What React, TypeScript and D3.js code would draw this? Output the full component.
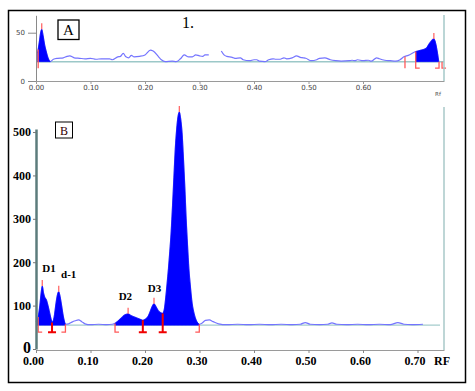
import { useEffect, useRef } from "react";
import * as d3 from "d3";

const W = 475;
const H = 391;

// ---- panel A: upper scan ----
const aRf = [
  0.003, 0.006, 0.0085, 0.0105, 0.013, 0.016, 0.019, 0.022, 0.026, 0.032, 0.04, 0.05, 0.057, 0.062,
  0.07, 0.08, 0.09, 0.1, 0.11, 0.12, 0.135, 0.14, 0.15, 0.155, 0.16, 0.165, 0.17, 0.175, 0.18, 0.19,
  0.2, 0.21, 0.215, 0.225, 0.23, 0.237, 0.25, 0.257, 0.265, 0.272, 0.28, 0.287, 0.293, 0.3, 0.306,
  0.31, 0.317, 0.328, 0.34, 0.345, 0.35, 0.36, 0.365, 0.375, 0.38, 0.392, 0.4, 0.405, 0.41, 0.42,
  0.427, 0.435, 0.44, 0.448, 0.455, 0.46, 0.47, 0.478, 0.485, 0.49, 0.495, 0.505, 0.515, 0.52, 0.53,
  0.54, 0.55, 0.56, 0.575, 0.58, 0.585, 0.59, 0.6, 0.61, 0.615, 0.625, 0.63, 0.64, 0.65, 0.66, 0.668,
  0.675, 0.683, 0.6967, 0.707, 0.716, 0.722, 0.73, 0.739,
];
const aVal: (number | null)[] = [
  29, 40, 50, 53.5, 47, 37, 30, 24, 20, 22.5, 23.5, 24, 25.5, 26,
  24, 23.5, 23, 23.5, 22.5, 23, 23, 22, 25, 25.5, 28.5, 25, 24, 26.5, 25, 25.5,
  27, 32, 31, 25, 22, 20, 20.5, 20, 23, 27, 25, 25, 27, 26, 25.5,
  27, 27, null, 31, 27, 25.5, 24.5, 23.5, 24, 22, 21, 22, 22, 20.5, 20,
  22, 23, 22.5, 22.5, 24, 23, 24, 26, 24.5, 24, 23.5, 21, 22, 23.5, 24,
  22, 21, 20.5, 21, 21.5, 21, 22, 21, 21.5, 20.5, 24, 23, 21.5, 21, 20.5, 22,
  25, 26.5, 30.5, 32, 34, 39, 43.5, 20,
];
const aBaseline = 20;
const aFills = [[0.003, 0.026], [0.6967, 0.739]];
const aPeaks = [0.0105, 0.73];
const aMarks = [
  { rf: 0.004, kind: "line" },
  { rf: 0.677, kind: "line" },
  { rf: 0.6967, kind: "left" },
  { rf: 0.7395, kind: "right" },
  { rf: 0.745, kind: "left" },
];
const aTicksX = [0, 0.1, 0.2, 0.3, 0.4, 0.5, 0.6];
const aTicksY = [0, 50];

// ---- panel B: lower scan ----
const bRf = [
  0.0, 0.004, 0.007, 0.0095, 0.0115, 0.014, 0.0165, 0.0188, 0.022, 0.026, 0.0294, 0.033, 0.037,
  0.0395, 0.0417, 0.044, 0.047, 0.05, 0.054, 0.06, 0.066, 0.072, 0.078, 0.084, 0.09, 0.1, 0.115,
  0.13, 0.14, 0.145, 0.15, 0.156, 0.162, 0.166, 0.169, 0.173, 0.178, 0.184, 0.19, 0.196, 0.201,
  0.206, 0.21, 0.2135, 0.2165, 0.22, 0.224, 0.228, 0.2325, 0.2355, 0.238, 0.2405, 0.243, 0.2455,
  0.248, 0.2505, 0.253, 0.2555, 0.258, 0.2605, 0.263, 0.2655, 0.268, 0.2705, 0.273, 0.2755, 0.278,
  0.2805, 0.283, 0.2865, 0.29, 0.294, 0.2996, 0.305, 0.311, 0.318, 0.325, 0.335, 0.35, 0.37, 0.39,
  0.41, 0.43, 0.45, 0.47, 0.485, 0.494, 0.503, 0.52, 0.535, 0.543, 0.552, 0.57, 0.59, 0.61, 0.63,
  0.65, 0.664, 0.675, 0.69, 0.71,
];
const bVal = [
  62, 74, 100, 130, 145, 128, 118, 114, 100, 78, 61, 72, 108,
  126, 132, 122, 100, 76, 57, 58, 62, 65, 67, 63, 58, 56, 57,
  56, 57, 59, 64, 71, 78, 80, 81, 78, 75, 72, 69, 66, 69,
  76, 88, 99, 104, 98, 89, 84, 82, 92, 118, 150, 185, 225,
  270, 330, 395, 460, 505, 535, 546, 530, 498, 440, 375, 300, 240,
  185, 148, 105, 82, 66, 57, 60, 66, 67, 63, 58, 56, 57, 56,
  57, 56, 57, 56, 57, 61, 57, 56, 57, 60, 57, 56, 57, 56, 57,
  56, 61, 57, 56, 57,
];
const bBaseline = 55;
const bFills = [[0.002, 0.0294], [0.0294, 0.054], [0.145, 0.196], [0.196, 0.2325], [0.2325, 0.2996]];
const bPeaks = [0.0115, 0.0417, 0.169, 0.2165, 0.263];
const bMarks = [
  { rf: 0.004, kind: "left" },
  { rf: 0.0294, kind: "sep" },
  { rf: 0.054, kind: "right" },
  { rf: 0.145, kind: "left" },
  { rf: 0.196, kind: "sep" },
  { rf: 0.2325, kind: "sep" },
  { rf: 0.2996, kind: "right" },
];
const bNames = ["D1", "d-1", "D2", "D3"];
const bNameRf = [0.024, 0.06, 0.164, 0.2175];
const bNameVal = [178, 163, 113, 132];
const bTicksX = [0, 0.1, 0.2, 0.3, 0.4, 0.5, 0.6, 0.7];
const bTicksY = [0, 100, 200, 300, 400, 500];

// shared x scale (both scans line up)
const x = d3.scaleLinear().domain([0, 0.7486]).range([36, 444]);
const yA = d3.scaleLinear().domain([0, 68]).range([81, 15.3]);
const yB = d3.scaleLinear().domain([0, 507]).range([349, 129]);

function interp(rf: number[], val: (number | null)[], r: number) {
  const i = Math.max(0, Math.min(rf.length - 2, d3.bisectRight(rf, r) - 1));
  const v0 = val[i] ?? 0, v1 = val[i + 1] ?? v0;
  const t = (r - rf[i]) / (rf[i + 1] - rf[i]);
  return v0 + (v1 - v0) * Math.max(0, Math.min(1, t));
}

function fillPoints(rf: number[], val: (number | null)[], a: number, b: number) {
  const pts: [number, number][] = [[a, interp(rf, val, a)]];
  rf.forEach((r, i) => {
    if (r > a && r < b && val[i] != null) pts.push([r, val[i] as number]);
  });
  pts.push([b, interp(rf, val, b)]);
  return pts;
}

function markPath(kind: string, px: number, top: number, bot: number) {
  if (kind === "left") return `M${px},${top}V${bot}H${px + 4}`;
  if (kind === "right") return `M${px},${top}V${bot}H${px - 4}`;
  if (kind === "sep") return `M${px},${top}V${bot}M${px - 4},${bot}H${px + 4}`;
  return `M${px},${top}V${bot}`;
}

const Scan = ({ rf, val, y, base, fills, peaks, marks, sep, tickLen }: any) => {
  const line = d3.line<[number, number | null]>()
    .defined(d => d[1] != null)
    .x(d => x(d[0]))
    .y(d => y(d[1] as number))
    .curve(d3.curveMonotoneX);
  const area = d3.area<[number, number]>()
    .x(d => x(d[0]))
    .y0(y(base))
    .y1(d => y(d[1]))
    .curve(d3.curveMonotoneX);
  const pairs = rf.map((r: number, i: number) => [r, val[i]]);
  return (
    <g>
      <path d={line(pairs) || ""} fill="none" stroke="#7474ff" strokeWidth={1.2} />
      {fills.map((f: number[], i: number) => (
        <path key={i} d={area(fillPoints(rf, val, f[0], f[1])) || ""} fill="#0000ff" stroke="#0000ff" strokeWidth={0.6} />
      ))}
      {peaks.map((p: number, i: number) => {
        const top = y(interp(rf, val, p));
        return <line key={i} x1={x(p)} x2={x(p)} y1={top} y2={top - 6} stroke="#ff6a6a" strokeWidth={1.3} />;
      })}
      {marks.map((m: any, i: number) => (
        <path key={i} d={markPath(m.kind, x(m.rf), y(interp(rf, val, m.rf)), y(base) + tickLen)}
          fill="none" stroke={m.kind === "sep" ? sep : "#ff5a5a"} strokeWidth={m.kind === "sep" ? 2 : 1.3} />
      ))}
    </g>
  );
};

export default function App() {
  const axA = useRef<SVGGElement>(null);
  const axB = useRef<SVGGElement>(null);

  useEffect(() => {
    const ga = d3.select(axA.current);
    ga.selectAll("*").remove();
    const ly = ga.append("g").attr("transform", "translate(36,0)")
      .call(d3.axisLeft(yA).tickValues(aTicksY).tickSize(8).tickSizeOuter(0).tickPadding(3));
    ly.select(".domain").attr("stroke", "#8a8a8a");
    ly.selectAll("line").attr("stroke", "#8a8a8a");
    ly.selectAll("text").attr("font-size", 7).attr("font-family", "DejaVu Sans").attr("fill", "#444");
    const lx = ga.append("g").attr("transform", "translate(0,81)")
      .call(d3.axisBottom(x).tickValues(aTicksX).tickFormat(d3.format(".2f")).tickSize(3).tickSizeOuter(0).tickPadding(1.5));
    lx.select(".domain").attr("stroke", "#9a9a9a");
    lx.selectAll("line").attr("stroke", "#9a9a9a");
    lx.selectAll("text").attr("font-size", 7).attr("font-family", "DejaVu Sans").attr("fill", "#444");

    const gb = d3.select(axB.current);
    gb.selectAll("*").remove();
    const by = gb.append("g").attr("transform", "translate(36,0)")
      .call(d3.axisLeft(yB).tickValues(bTicksY).tickSize(3).tickSizeOuter(0).tickPadding(2));
    by.select(".domain").attr("stroke", "#5c7c7c").attr("stroke-width", 2.5);
    by.selectAll("line").attr("stroke", "#777");
    by.selectAll("text").attr("font-size", 12).attr("font-weight", "bold")
      .attr("font-family", "Liberation Serif").attr("fill", "#000");
    by.selectAll("text").filter((d: any) => d === 0).attr("font-size", 16).attr("dy", "0.2em");
    const bx = gb.append("g").attr("transform", "translate(0,350)")
      .call(d3.axisBottom(x).tickValues(bTicksX).tickFormat(d3.format(".2f")).tickSize(3).tickSizeOuter(0).tickPadding(3.5));
    bx.select(".domain").attr("stroke", "#9a9a9a");
    bx.selectAll("line").attr("stroke", "#888");
    bx.selectAll("text").attr("font-size", 12).attr("font-weight", "bold")
      .attr("font-family", "Liberation Serif").attr("fill", "#000").attr("dx", -3);
  }, []);

  return (
    <svg width={W} height={H} style={{ position: "absolute", left: 0, top: 0, background: "#fff" }}>
      <rect x={8.5} y={10.5} width={457} height={372} fill="none" stroke="#000" strokeWidth={1.5} />

      {/* panel A */}
      <line x1={36} x2={444} y1={yA(aBaseline)} y2={yA(aBaseline)} stroke="#9cc8c8" strokeWidth={1.6} />
      <Scan rf={aRf} val={aVal} y={yA} base={aBaseline} fills={aFills} peaks={aPeaks} marks={aMarks} sep="#ff5a5a" tickLen={6.5} />
      <g ref={axA} />
      <line x1={444} x2={444} y1={15} y2={81} stroke="#a4c8c8" strokeWidth={1.5} />
      <rect x={58} y={20} width={21} height={19.5} fill="#fff" stroke="#000" strokeWidth={1.3} />
      <text x={68.5} y={35} textAnchor="middle" fontFamily="Liberation Serif" fontSize={15}>A</text>
      <text x={182} y={27.5} fontFamily="Liberation Serif" fontSize={16}>1.</text>
      <text x={438} y={96} textAnchor="middle" fontFamily="DejaVu Sans" fontSize={5.5} fill="#555">Rf</text>

      {/* panel B */}
      <line x1={36} x2={440} y1={yB(bBaseline)} y2={yB(bBaseline)} stroke="#a4cccc" strokeWidth={1.4} />
      <Scan rf={bRf} val={bVal} y={yB} base={bBaseline} fills={bFills} peaks={bPeaks} marks={bMarks} sep="#f00000" tickLen={7} />
      <g ref={axB} />
      <line x1={444} x2={444} y1={107} y2={350} stroke="#a8c8c8" strokeWidth={1.5} />
      <rect x={55.5} y={122} width={17} height={16} fill="#fff" stroke="#000" strokeWidth={1} />
      <text x={64} y={134.5} textAnchor="middle" fontFamily="Liberation Serif" fontSize={12} fill="#300">B</text>
      {bNames.map((n, i) => (
        <text key={n} x={x(bNameRf[i])} y={yB(bNameVal[i])} textAnchor="middle"
          fontFamily="Liberation Serif" fontWeight="bold" fontSize={11}>{n}</text>
      ))}
      <text x={442} y={365} textAnchor="middle" fontFamily="Liberation Serif" fontWeight="bold" fontSize={12}>RF</text>
    </svg>
  );
}
